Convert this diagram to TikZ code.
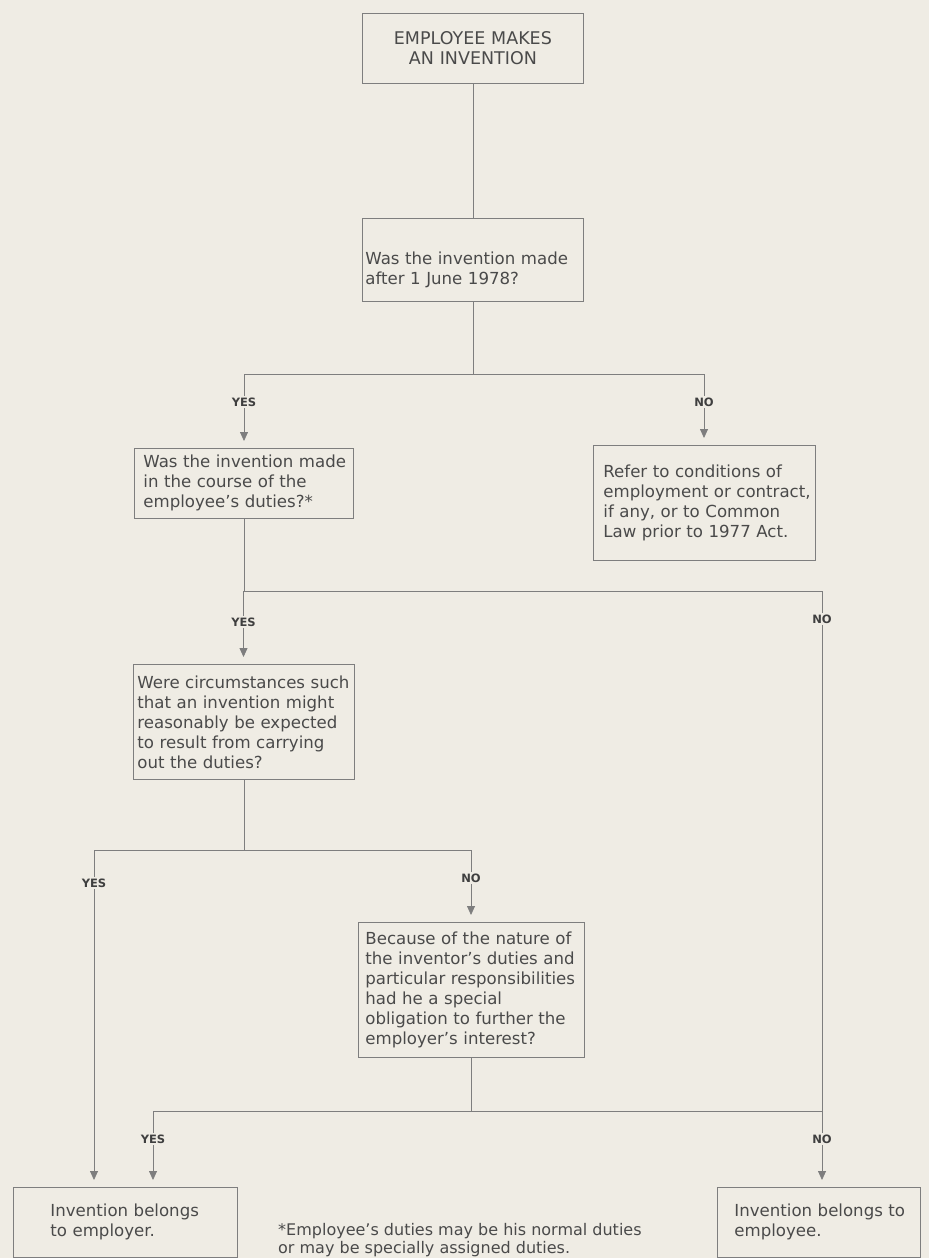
\documentclass[tikz,border=0pt]{standalone}
\usepackage{fontspec}
\setmainfont{DejaVu Sans}
\usetikzlibrary{arrows.meta}
\definecolor{bg}{HTML}{EFECE4}
\definecolor{ink}{HTML}{4A4A4A}
\definecolor{rule}{HTML}{7E7E7E}
\begin{document}
\begin{tikzpicture}[x=1pt,y=-1pt,
  box/.style={draw=rule, line width=0.8pt, text=ink, font=\fontsize{16.6}{20}\selectfont,
    align=left, inner ysep=0pt, anchor=north west},
  lab/.style={text=ink!85!black, font=\bfseries\fontsize{11.5}{12}\selectfont, inner sep=1.5pt},
  conn/.style={draw=rule, line width=0.8pt},
  arr/.style={conn, -{Triangle[width=8pt,length=9pt]}, shorten >=7pt}
]
\fill[bg] (0,0) rectangle (929,1258);
\useasboundingbox (0,0) rectangle (929,1258);

% boxes
\node[box, align=center, minimum width=221pt, minimum height=70pt, text width=211pt, inner xsep=5pt,
  font=\fontsize{17.5}{20}\selectfont] (b1) at (362,13) {EMPLOYEE MAKES\\AN INVENTION};
\node[box, minimum width=221pt, minimum height=83pt, text width=215pt, inner xsep=3pt] (b2) at (362,218)
  {\rule{0pt}{33pt}\mbox{Was the invention made}\\\mbox{after 1 June 1978?}};
\node[box, minimum width=219pt, minimum height=70pt, text width=201pt, inner xsep=9pt] (b3) at (134,448)
  {\mbox{Was the invention made}\\\mbox{in the course of the}\\\mbox{employee's duties?*}};
\node[box, minimum width=222pt, minimum height=115pt, text width=202pt, inner xsep=10pt] (b4) at (593,445)
  {\mbox{Refer to conditions of}\\\mbox{employment or contract,}\\\mbox{if any, or to Common}\\\mbox{Law prior to 1977 Act.}};
\node[box, minimum width=221pt, minimum height=115pt, text width=213pt, inner xsep=4pt] (b5) at (133,664)
  {\mbox{Were circumstances such}\\\mbox{that an invention might}\\\mbox{reasonably be expected}\\\mbox{to result from carrying}\\\mbox{out the duties?}};
\node[box, minimum width=226pt, minimum height=135pt, text width=212pt, inner xsep=7pt] (b6) at (358,922)
  {\mbox{Because of the nature of}\\\mbox{the inventor's duties and}\\\mbox{particular responsibilities}\\\mbox{had he a special}\\\mbox{obligation to further the}\\\mbox{employer's interest?}};
\node[box, minimum width=224pt, minimum height=70pt, text width=150pt, inner xsep=37pt] (b7) at (13,1187)
  {\mbox{Invention belongs}\\\mbox{to employer.}};
\node[box, minimum width=203pt, minimum height=70pt, text width=169pt, inner xsep=17pt] (b8) at (717,1187)
  {\mbox{Invention belongs to}\\\mbox{employee.}};

\node[text=ink, font=\fontsize{16}{18}\selectfont, align=left, inner sep=0pt, anchor=north west] (fn) at (278,1223)
  {*Employee's duties may be his normal duties\\or may be specially assigned duties.};

% junction coordinates
\coordinate (j1) at (472.5,374);
\coordinate (j1l) at (244,374);
\coordinate (j1r) at (704,374);
\coordinate (j2) at (243.5,591);
\coordinate (j2r) at (822,591);
\coordinate (j3) at (243.5,850);
\coordinate (j3l) at (94,850);
\coordinate (j3r) at (471,850);
\coordinate (j4) at (471,1111);
\coordinate (j4l) at (153,1111);
\coordinate (j4r) at (822,1111);

% labels
\node[lab] (y1) at (244,402) {YES};
\node[lab] (n1) at (704,402) {NO};
\node[lab] (y2) at (243.5,622) {YES};
\node[lab] (n2) at (822,619) {NO};
\node[lab] (y3) at (94,883) {YES};
\node[lab] (n3) at (471,878) {NO};
\node[lab] (y4) at (153,1139) {YES};
\node[lab] (n4) at (822,1139) {NO};

% connectors
\draw[conn] (b1.south) -- (b1.south |- b2.north);
\draw[conn] (b2.south) -- (b2.south |- j1);
\draw[conn] (j1l) -- (j1r);
\draw[conn] (j1l) -- (y1.north);
\draw[arr] (y1.south) -- (y1.south |- b3.north);
\draw[conn] (j1r) -- (n1.north);
\draw[arr] (n1.south) -- (n1.south |- b4.north);

\draw[conn] (b3.south) -- (b3.south |- j2);
\draw[conn] (j2) -- (j2r) -- (n2.north);
\draw[conn] (j2) -- (y2.north);
\draw[arr] (y2.south) -- (y2.south |- b5.north);
\draw[conn] (n2.south) -- (j4r);

\draw[conn] (b5.south) -- (b5.south |- j3);
\draw[conn] (j3l) -- (j3r);
\draw[conn] (j3l) -- (y3.north);
\draw[arr] (y3.south) -- (y3.south |- b7.north);
\draw[conn] (j3r) -- (n3.north);
\draw[arr] (n3.south) -- (n3.south |- b6.north);

\draw[conn] (b6.south) -- (b6.south |- j4);
\draw[conn] (j4l) -- (j4r);
\draw[conn] (j4l) -- (y4.north);
\draw[arr] (y4.south) -- (y4.south |- b7.north);
\draw[conn] (j4r) -- (n4.north);
\draw[arr] (n4.south) -- (n4.south |- b8.north);
\end{tikzpicture}
\end{document}
